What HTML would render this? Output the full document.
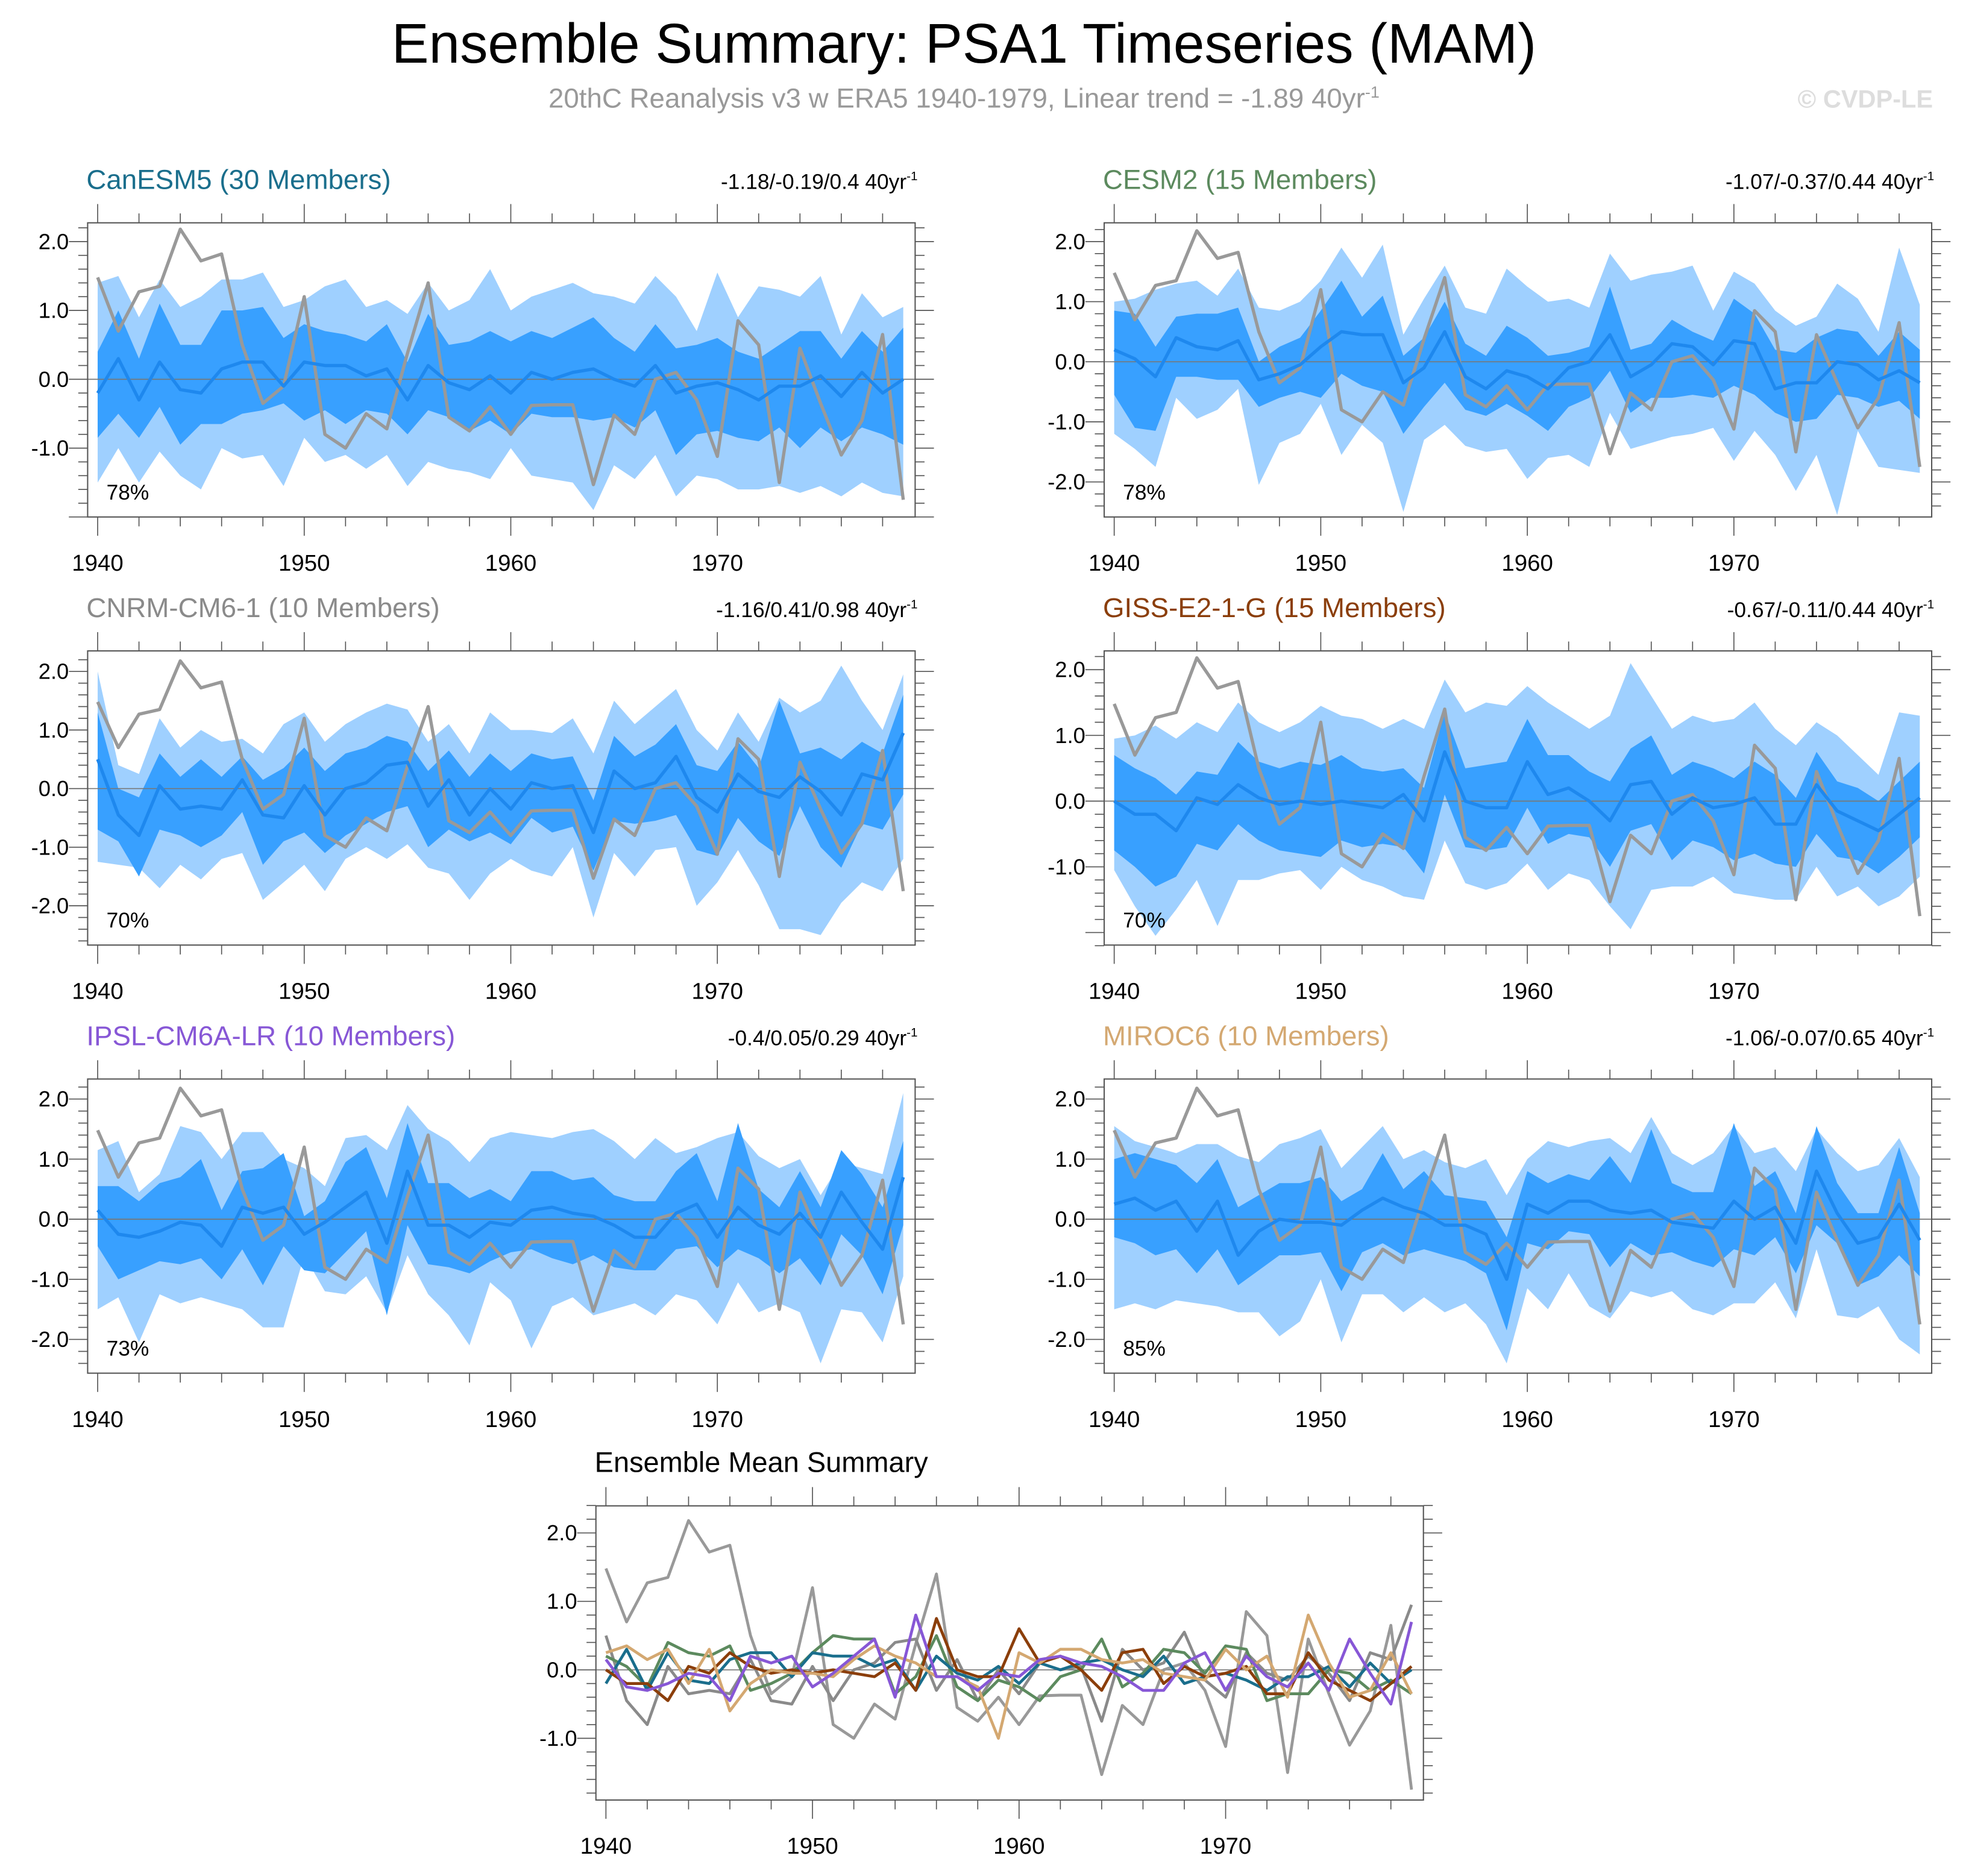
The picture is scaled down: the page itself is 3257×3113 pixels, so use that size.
<!DOCTYPE html>
<html><head><meta charset="utf-8">
<style>
html,body{margin:0;padding:0;background:#fff;}
svg{display:block;}
text{font-family:"Liberation Sans",sans-serif;}
</style></head>
<body>
<svg id="chart" xmlns="http://www.w3.org/2000/svg" width="3257" height="3113" viewBox="0 0 1568 1498.7">
<text x="770" y="50" font-size="44.6" text-anchor="middle" fill="#000">Ensemble Summary: PSA1 Timeseries (MAM)</text>
<text x="770" y="86" font-size="22" text-anchor="middle" fill="#999">20thC Reanalysis v3 w ERA5 1940-1979, Linear trend = -1.89 40yr<tspan dy="-8" font-size="13">-1</tspan></text>
<text x="1544" y="86" font-size="20" font-weight="bold" text-anchor="end" fill="#ddd">© CVDP-LE</text>
<g id="panels"></g>
</svg>
<script>
const years = [];
for (let y = 1940; y <= 1979; y++) years.push(y);
const xTickLabels = ["1940","1950","1960","1970"];
const yTickLabels = ["2.0","1.0","0.0","-1.0","-2.0"];
const obs = [1.48,0.7,1.27,1.35,2.18,1.72,1.82,0.5,-0.35,-0.1,1.2,-0.8,-1.0,-0.5,-0.72,0.38,1.4,-0.55,-0.75,-0.4,-0.8,-0.38,-0.37,-0.37,-1.53,-0.52,-0.8,0.0,0.1,-0.3,-1.12,0.85,0.5,-1.5,0.45,-0.35,-1.1,-0.6,0.65,-1.75];

const canMean=[-0.2,0.3,-0.3,0.25,-0.15,-0.2,0.15,0.25,0.25,-0.1,0.25,0.2,0.2,0.05,0.15,-0.3,0.2,-0.05,-0.15,0.05,-0.2,0.1,0.0,0.1,0.15,0.0,-0.1,0.2,-0.2,-0.1,-0.05,-0.15,-0.3,-0.1,-0.1,0.05,-0.25,0.1,-0.2,0.0];
const canP75=[0.4,1.0,0.3,1.1,0.5,0.5,1.0,1.0,1.05,0.6,0.8,0.7,0.65,0.55,0.8,0.25,0.95,0.5,0.55,0.7,0.55,0.7,0.6,0.75,0.9,0.6,0.4,0.8,0.45,0.5,0.6,0.4,0.3,0.5,0.7,0.7,0.3,0.7,0.4,0.75];
const canP25=[-0.85,-0.5,-0.85,-0.4,-0.95,-0.65,-0.65,-0.5,-0.45,-0.35,-0.6,-0.45,-0.65,-0.45,-0.5,-0.8,-0.45,-0.55,-0.75,-0.6,-0.8,-0.5,-0.55,-0.55,-0.6,-0.55,-0.7,-0.45,-1.1,-0.8,-0.75,-0.85,-0.9,-0.7,-1.0,-0.7,-0.9,-0.7,-0.8,-0.95];
const canP90=[1.4,1.5,0.9,1.45,1.05,1.2,1.45,1.45,1.55,1.05,1.15,1.35,1.45,1.05,1.15,0.95,1.4,1.0,1.15,1.6,1.0,1.2,1.3,1.4,1.25,1.2,1.1,1.5,1.2,0.7,1.55,0.9,1.35,1.3,1.2,1.5,0.65,1.25,0.9,1.05];
const canP10=[-1.5,-1.0,-1.5,-1.05,-1.4,-1.6,-1.0,-1.15,-1.1,-1.55,-0.85,-1.2,-1.1,-1.3,-1.1,-1.55,-1.2,-1.3,-1.35,-1.45,-1.0,-1.4,-1.45,-1.5,-1.9,-1.25,-1.45,-1.1,-1.7,-1.4,-1.45,-1.6,-1.6,-1.55,-1.65,-1.55,-1.7,-1.5,-1.65,-1.7];

const cesmMean=[0.2,0.05,-0.25,0.4,0.25,0.2,0.35,-0.3,-0.2,-0.05,0.25,0.5,0.45,0.45,-0.35,-0.1,0.5,-0.25,-0.45,-0.15,-0.25,-0.45,-0.1,0.0,0.45,-0.25,-0.05,0.3,0.25,-0.05,0.35,0.3,-0.45,-0.35,-0.35,0.0,-0.05,-0.3,-0.15,-0.35];
const cesmP75=[0.85,0.8,0.25,0.75,0.8,0.8,0.9,0.0,0.25,0.4,0.85,1.35,0.75,1.1,0.1,0.4,1.0,0.3,0.1,0.6,0.4,0.1,0.15,0.25,1.25,0.2,0.3,0.7,0.5,0.35,1.05,0.8,0.2,0.15,0.4,0.55,0.5,0.1,0.5,0.2];
const cesmP25=[-0.55,-1.1,-1.15,-0.25,-0.25,-0.3,-0.3,-0.75,-0.6,-0.5,-0.6,-0.2,-0.4,-0.5,-1.2,-0.75,-0.35,-0.8,-0.9,-0.7,-0.9,-1.15,-0.75,-0.6,-0.15,-0.85,-0.6,-0.6,-0.55,-0.6,-0.4,-0.55,-0.85,-1.0,-0.95,-0.55,-0.6,-0.75,-0.65,-0.95];
const cesmP90=[1.0,1.05,1.2,1.3,1.35,1.1,1.55,0.9,0.85,1.0,1.35,1.9,1.4,1.95,0.45,1.05,1.6,0.9,0.8,1.55,1.25,1.0,1.05,0.9,1.8,1.35,1.45,1.5,1.6,0.85,1.5,1.3,0.85,0.6,0.75,1.3,1.05,0.5,1.9,0.95];
const cesmP10=[-1.2,-1.45,-1.75,-0.6,-0.95,-0.8,-0.45,-2.05,-1.35,-1.2,-0.7,-1.55,-1.05,-1.35,-2.5,-1.3,-1.05,-1.4,-1.5,-1.45,-1.95,-1.6,-1.55,-1.75,-0.85,-1.45,-1.35,-1.25,-1.2,-1.1,-1.65,-1.15,-1.55,-2.15,-1.55,-2.55,-1.15,-1.75,-1.8,-1.85];

const cnrmMean=[0.5,-0.45,-0.8,0.05,-0.35,-0.3,-0.35,0.15,-0.45,-0.5,0.05,-0.45,0.0,0.1,0.4,0.45,-0.3,0.15,-0.45,0.0,-0.35,0.1,0.0,0.05,-0.75,0.3,0.0,0.1,0.55,-0.15,-0.4,0.25,-0.05,-0.15,0.2,-0.05,-0.45,0.25,0.15,0.95];
const cnrmP75=[1.3,0.0,-0.15,0.6,0.2,0.5,0.2,0.55,0.15,0.35,0.7,0.3,0.6,0.7,0.9,0.8,0.3,0.65,0.2,0.6,0.3,0.6,0.5,0.55,-0.2,0.9,0.55,0.75,1.1,0.4,0.3,0.8,0.35,1.5,0.6,0.7,0.5,0.8,0.6,1.6];
const cnrmP25=[-0.7,-0.9,-1.5,-0.7,-0.8,-1.0,-0.8,-0.4,-1.3,-0.9,-0.75,-1.1,-0.8,-0.6,-0.4,-0.3,-1.0,-0.7,-0.9,-0.75,-0.95,-0.5,-0.75,-0.65,-1.4,-0.55,-0.6,-0.55,-0.45,-1.05,-1.15,-0.5,-0.9,-1.15,-0.3,-1.0,-1.35,-0.6,-0.7,-0.1];
const cnrmP90=[2.0,0.4,0.25,1.2,0.7,1.0,0.8,0.85,0.6,1.1,1.3,0.8,1.1,1.3,1.45,1.35,0.8,1.1,0.6,1.3,1.0,1.0,0.95,1.2,0.6,1.5,1.1,1.4,1.7,1.0,0.65,1.3,0.8,1.55,1.3,1.5,2.1,1.5,1.0,1.95];
const cnrmP10=[-1.25,-1.3,-1.35,-1.7,-1.3,-1.55,-1.2,-1.1,-1.9,-1.6,-1.3,-1.75,-1.2,-1.0,-1.2,-0.95,-1.35,-1.45,-1.9,-1.45,-1.2,-1.4,-1.5,-1.0,-2.2,-1.1,-1.5,-1.05,-1.0,-2.0,-1.6,-1.05,-1.65,-2.4,-2.4,-2.5,-1.95,-1.6,-1.75,-1.2];

const gissMean=[0.0,-0.2,-0.2,-0.45,0.05,-0.05,0.25,0.05,-0.05,0.0,-0.05,0.0,-0.05,-0.1,0.1,-0.3,0.75,0.0,-0.1,-0.1,0.6,0.1,0.2,0.0,-0.3,0.25,0.3,-0.2,0.05,-0.1,-0.05,0.05,-0.35,-0.35,0.25,-0.15,-0.3,-0.45,-0.2,0.05];
const gissP75=[0.7,0.5,0.35,0.1,0.45,0.4,0.9,0.6,0.5,0.6,0.55,0.7,0.5,0.45,0.5,0.2,1.35,0.5,0.55,0.6,1.25,0.7,0.7,0.45,0.3,0.8,1.0,0.4,0.6,0.5,0.35,0.6,0.4,0.05,0.75,0.3,0.2,0.0,0.3,0.6];
const gissP25=[-0.75,-1.0,-1.3,-1.15,-0.65,-0.75,-0.35,-0.6,-0.75,-0.8,-0.85,-0.6,-0.7,-0.65,-0.7,-1.1,0.1,-0.7,-0.75,-0.7,-0.1,-0.65,-0.5,-0.55,-1.0,-0.45,-0.35,-0.9,-0.6,-0.7,-0.9,-0.8,-0.95,-1.0,-0.5,-0.85,-0.9,-1.1,-0.85,-0.55];
const gissP90=[0.95,1.0,1.15,0.95,1.2,1.05,1.5,1.2,1.05,1.2,1.45,1.3,1.25,1.1,1.25,1.1,1.85,1.35,1.5,1.45,1.75,1.5,1.3,1.1,1.3,2.1,1.6,1.1,1.3,1.2,1.25,1.5,1.1,0.85,1.2,1.0,0.7,0.4,1.35,1.3];
const gissP10=[-1.05,-1.6,-2.05,-1.65,-1.2,-1.9,-1.2,-1.2,-1.1,-1.05,-1.35,-1.0,-1.2,-1.3,-1.45,-1.5,-0.6,-1.25,-1.35,-1.25,-0.95,-1.35,-1.1,-1.2,-1.6,-1.95,-1.35,-1.3,-1.3,-1.15,-1.4,-1.45,-1.5,-1.5,-1.0,-1.45,-1.3,-1.6,-1.45,-1.15];

const ipslMean=[0.15,-0.25,-0.3,-0.2,-0.05,-0.1,-0.45,0.2,0.1,0.2,-0.25,-0.05,0.2,0.45,-0.4,0.8,-0.1,-0.1,-0.3,-0.05,-0.1,0.15,0.2,0.1,0.05,-0.1,-0.3,-0.3,0.1,0.25,-0.3,0.2,-0.1,-0.25,0.1,-0.3,0.45,-0.05,-0.5,0.7];
const ipslP75=[0.55,0.55,0.3,0.6,0.7,1.0,0.15,0.8,0.85,1.1,0.05,0.3,0.95,1.2,0.35,1.6,0.6,0.6,0.35,0.5,0.3,0.8,0.8,0.65,0.7,0.4,0.3,0.3,0.8,1.1,0.3,1.6,0.5,0.2,0.8,0.2,1.15,0.75,0.2,1.3];
const ipslP25=[-0.45,-1.0,-0.85,-0.7,-0.75,-0.65,-1.0,-0.5,-1.1,-0.45,-0.85,-0.9,-0.55,-0.2,-1.6,-0.1,-0.75,-0.8,-0.9,-0.7,-0.55,-0.5,-0.65,-0.75,-0.6,-0.8,-0.85,-0.85,-0.5,-0.45,-0.8,-0.5,-0.65,-0.9,-0.65,-1.1,-0.25,-0.6,-1.25,-0.1];
const ipslP90=[1.15,1.3,0.45,0.75,1.55,1.45,1.0,1.45,1.45,1.0,0.85,0.55,1.35,1.4,1.15,1.9,1.5,1.3,0.95,1.35,1.45,1.4,1.35,1.45,1.5,1.3,1.0,1.35,1.1,1.2,1.35,1.45,1.05,0.85,1.0,0.4,0.95,0.85,0.75,2.1];
const ipslP10=[-1.5,-1.3,-2.05,-1.25,-1.4,-1.3,-1.4,-1.5,-1.8,-1.8,-0.6,-1.2,-1.25,-0.95,-1.55,-0.6,-1.25,-1.6,-2.1,-1.05,-1.35,-2.15,-1.45,-1.3,-1.6,-1.5,-1.4,-1.6,-1.25,-1.35,-1.75,-1.05,-1.55,-1.4,-1.55,-2.4,-1.5,-1.55,-2.05,-0.95];

const mirocMean=[0.25,0.35,0.15,0.3,-0.2,0.3,-0.6,-0.2,0.0,-0.05,-0.05,-0.1,0.15,0.35,0.2,0.1,-0.1,-0.1,-0.25,-1.0,0.25,0.1,0.3,0.3,0.15,0.1,0.15,-0.05,-0.1,-0.15,0.3,0.0,0.2,-0.4,0.8,0.1,-0.4,-0.3,0.25,-0.35];
const mirocP75=[1.0,1.1,1.0,0.9,0.6,1.0,0.2,0.4,0.6,0.6,0.7,0.3,0.5,1.1,0.5,0.8,0.4,0.35,0.3,-0.3,0.8,0.6,0.75,0.65,1.05,0.6,1.5,0.6,0.45,0.45,1.6,0.55,0.8,0.1,1.55,0.6,0.1,0.1,1.2,0.1];
const mirocP25=[-0.3,-0.4,-0.6,-0.5,-0.9,-0.5,-1.1,-0.85,-0.6,-0.6,-0.55,-1.2,-0.55,-0.4,-0.6,-0.5,-0.6,-0.7,-0.9,-1.85,-0.4,-0.5,-0.2,-0.25,-0.8,-0.4,-0.6,-0.55,-0.7,-0.8,-0.5,-0.6,-0.3,-0.9,-0.1,-0.4,-1.1,-0.95,-0.6,-0.95];
const mirocP90=[1.55,1.3,1.2,1.1,1.25,1.25,1.05,0.95,1.25,1.35,1.5,0.85,1.2,1.55,1.0,1.15,0.95,0.85,1.0,0.4,1.0,1.3,1.2,1.3,1.35,1.1,1.7,1.1,0.9,1.1,1.55,1.1,1.2,0.8,1.5,1.1,0.8,0.9,1.35,0.7];
const mirocP10=[-1.5,-1.4,-1.5,-1.35,-1.4,-1.45,-1.55,-1.55,-1.95,-1.7,-1.0,-2.05,-1.25,-1.25,-1.55,-1.3,-1.55,-1.4,-1.75,-2.4,-1.15,-1.5,-0.9,-1.45,-1.65,-1.2,-1.3,-1.2,-1.5,-1.6,-1.4,-1.4,-1.05,-1.65,-0.5,-1.6,-1.65,-1.45,-2.0,-2.25];

const modelNames=["CanESM5 (30 Members)","CESM2 (15 Members)","CNRM-CM6-1 (10 Members)","GISS-E2-1-G (15 Members)","IPSL-CM6A-LR (10 Members)","MIROC6 (10 Members)"];
const trendLabels=["-1.18/-0.19/0.4 40yr","-1.07/-0.37/0.44 40yr","-1.16/0.41/0.98 40yr","-0.67/-0.11/0.44 40yr","-0.4/0.05/0.29 40yr","-1.06/-0.07/0.65 40yr"];
const pctLabels=["78%","78%","70%","70%","73%","85%"];
const modelColors=["#1a6e8c","#5c8a5e","#8a8a8a","#8b3e0a","#8757d6","#d4a871"];

const NS="http://www.w3.org/2000/svg";
const root=document.getElementById('panels');
function mk(tag,attrs,parent){const e=document.createElementNS(NS,tag);for(const k in attrs)e.setAttribute(k,attrs[k]);(parent||root).appendChild(e);return e;}

function panel(cfg){
  const g=mk('g',{});
  
  
  const x0=cfg.x, y0=cfg.y, w=661, h=235;
  const xs=y=>cfg.x1940+(y-1940)*16.5;
  const ys=v=>cfg.zeroY-v*cfg.unit;
  const clip='clip-'+cfg.id;
  const cp=mk('clipPath',{id:clip},g); mk('rect',{x:x0,y:y0,width:w,height:h},cp);
  const pg=mk('g',{'clip-path':'url(#'+clip+')'},g);
  function band(lo,hi,fill,nm){
    let d='M'+years.map((y,i)=>xs(y)+','+ys(hi[i])).join('L');
    for(let i=years.length-1;i>=0;i--) d+='L'+xs(years[i])+','+ys(lo[i]);
    const p=mk('path',{d:d+'Z',fill:fill},pg);
    
    
  }
  function line(vals,col,wd,nm){
    const p=mk('polyline',{points:years.map((y,i)=>xs(y)+','+ys(vals[i])).join(' '),fill:'none',stroke:col,'stroke-width':wd,'stroke-linejoin':'round'},pg);
    
    
  }
  if(cfg.p10){
    band(cfg.p10,cfg.p90,'#9fd0ff','band-10-90');
    band(cfg.p25,cfg.p75,'#38a0ff','band-25-75');
  }
  const zl=mk('line',{x1:x0,x2:x0+w,y1:ys(0),y2:ys(0),stroke:'#777','stroke-width':0.8},pg);
  
  
  if(cfg.lines){
    cfg.lines.forEach((l,i)=>line(l.vals,l.col,2.3,l.nm));
  } else {
    line(obs,'#999',2.6,'observed-line');
    line(cfg.mean,'#1e88ee',2.6,'ensemble-mean-line');
  }
  const box=mk('rect',{x:x0,y:y0,width:w,height:h,fill:'none',stroke:'#555','stroke-width':1},g);
  
  
  for(let y=1940;y<=1979;y+=2){
    const maj=(y%10===0), L=maj?15:7.5, X=xs(y);
    mk('line',{x1:X,x2:X,y1:y0+h,y2:y0+h+L,stroke:'#555','stroke-width':0.8},g);
    mk('line',{x1:X,x2:X,y1:y0,y2:y0-L,stroke:'#555','stroke-width':0.8},g);
  }
  xTickLabels.forEach(t=>{
    const tx=mk('text',{x:xs(+t),y:y0+h+43,'font-size':18.5,'text-anchor':'middle',fill:'#000'},g);
    tx.textContent=t;
    
    
  });
  for(let k=-30;k<=30;k+=2){
    const v=k/10, Y=ys(v);
    if(Y<y0-0.5||Y>y0+h+0.5) continue;
    const maj=(k%10===0), L=maj?15:7.5;
    mk('line',{x1:x0,x2:x0-L,y1:Y,y2:Y,stroke:'#555','stroke-width':0.8},g);
    mk('line',{x1:x0+w,x2:x0+w+L,y1:Y,y2:Y,stroke:'#555','stroke-width':0.8},g);
  }
  yTickLabels.forEach(t=>{
    const Y=ys(parseFloat(t));
    if(Y<y0||Y>y0+h-12) return;
    const tx=mk('text',{x:x0-15,y:Y+6,'font-size':17.5,'text-anchor':'end',fill:'#000'},g);
    tx.textContent=t;
    
    
  });
  const tt=mk('text',{x:x0-1,y:y0-27,'font-size':cfg.titleSize||22,fill:cfg.titleColor},g);
  tt.textContent=cfg.title;
  
  
  if(cfg.trend){
    const tr=mk('text',{x:x0+w+2,y:y0-27,'font-size':17,'text-anchor':'end',fill:'#000'},g);
    tr.textContent=cfg.trend;
    const sp=mk('tspan',{dy:-7,'font-size':10},tr); sp.textContent='-1';
    
    
    const pc=mk('text',{x:x0+15,y:y0+h-14,'font-size':17,fill:'#000'},g);
    pc.textContent=cfg.pct;
    
    
  }
}

const L={x:70,x1940:78}, R={x:882,x1940:890};
const cfgs=[
 {id:'p1',name:'canesm5-panel',x:L.x,x1940:L.x1940,y:178,zeroY:303,unit:55,mean:canMean,p10:canP10,p25:canP25,p75:canP75,p90:canP90},
 {id:'p2',name:'cesm2-panel',x:R.x,x1940:R.x1940,y:178,zeroY:289,unit:48,mean:cesmMean,p10:cesmP10,p25:cesmP25,p75:cesmP75,p90:cesmP90},
 {id:'p3',name:'cnrm-panel',x:L.x,x1940:L.x1940,y:520,zeroY:630,unit:46.8,mean:cnrmMean,p10:cnrmP10,p25:cnrmP25,p75:cnrmP75,p90:cnrmP90},
 {id:'p4',name:'giss-panel',x:R.x,x1940:R.x1940,y:520,zeroY:640,unit:52.5,mean:gissMean,p10:gissP10,p25:gissP25,p75:gissP75,p90:gissP90},
 {id:'p5',name:'ipsl-panel',x:L.x,x1940:L.x1940,y:862,zeroY:974,unit:48,mean:ipslMean,p10:ipslP10,p25:ipslP25,p75:ipslP75,p90:ipslP90},
 {id:'p6',name:'miroc6-panel',x:R.x,x1940:R.x1940,y:862,zeroY:974,unit:48,mean:mirocMean,p10:mirocP10,p25:mirocP25,p75:mirocP75,p90:mirocP90}
];
cfgs.forEach((c,i)=>{c.title=modelNames[i];c.titleColor=modelColors[i];c.trend=trendLabels[i];c.pct=pctLabels[i];panel(c);});

const means=[canMean,cesmMean,cnrmMean,gissMean,ipslMean,mirocMean];
const lines=[{vals:obs,col:'#999',nm:'observed-line'}];
const order=[2,1,0,3,5,4];
order.forEach(i=>lines.push({vals:means[i],col:modelColors[i],nm:'mean-line-'+modelNames[i].split(' ')[0].toLowerCase()}));
panel({id:'p7',name:'ensemble-mean-summary-panel',x:476,x1940:484,y:1203,zeroY:1334,unit:54.7,lines:lines,title:'Ensemble Mean Summary',titleColor:'#000',titleSize:22.6});
</script>
</body></html>
